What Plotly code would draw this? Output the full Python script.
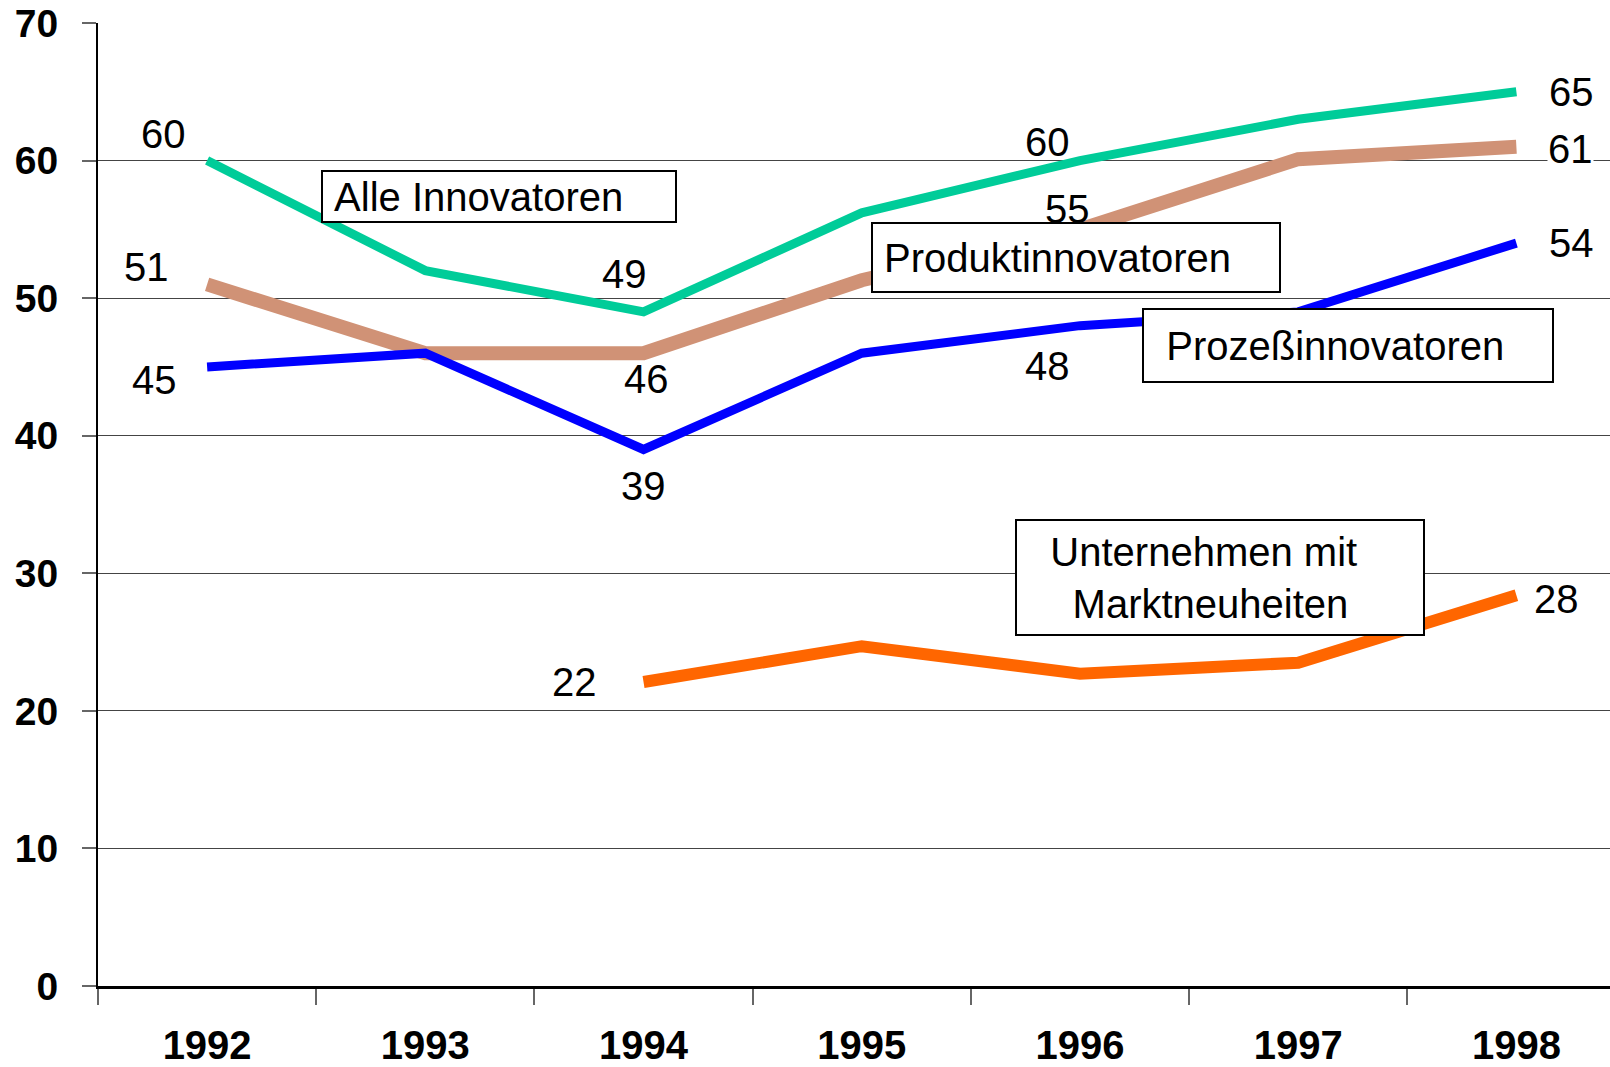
import plotly.graph_objects as go

years = ["1992", "1993", "1994", "1995", "1996", "1997", "1998"]
alle = [60, 52, 49, 56.2, 60, 63, 65]
produkt = [51, 46, 46, 51.3, 55, 60.1, 61]
prozess = [45, 46, 39, 46, 48, 49, 54]
markt = [None, None, 22.1, 24.7, 22.7, 23.5, 28.4]

series_names = ["Alle Innovatoren", "Produktinnovatoren", "Prozeßinnovatoren",
                "Unternehmen mit<br>Marktneuheiten"]

FONT = "Liberation Sans, Arial, sans-serif"

fig = go.Figure()

styles = {
    "markt": dict(color="#FF6600", width=12),
    "produkt": dict(color="rgb(208,146,118)", width=14),
    "prozess": dict(color="#0000FF", width=9),
    "alle": dict(color="#00CC99", width=9),
}
data = {"markt": markt, "produkt": produkt, "prozess": prozess, "alle": alle}
names = {"alle": series_names[0], "produkt": series_names[1],
         "prozess": series_names[2], "markt": series_names[3]}

for key in ["markt", "produkt", "prozess", "alle"]:
    fig.add_trace(go.Scatter(x=years, y=data[key], mode="lines",
                             line=dict(color=styles[key]["color"], width=styles[key]["width"]),
                             name=names[key].replace("<br>", " "), showlegend=False,
                             connectgaps=False))

# label placement (pixel offsets, dx right, dy down)
label_offsets = {
    "alle": {0: (-44, -27), 2: (-19, -38), 4: (-32, -19), 6: (55, 0)},
    "produkt": {0: (-61, -17), 2: (3, 26), 4: (-12, -20), 6: (54, 2)},
    "prozess": {0: (-53, 13), 2: (0, 37), 4: (-32, 40), 6: (55, 0)},
    "markt": {2: (-69, 0), 6: (40, 4)},
}

annotations = []
for key, offs in label_offsets.items():
    for i, (dx, dy) in offs.items():
        v = data[key][i]
        annotations.append(dict(
            x=i, y=v, xref="x", yref="y", text=str(int(round(v))),
            showarrow=False, xshift=dx, yshift=-dy,
            font=dict(family=FONT, size=40, color="black"),
            bgcolor="white" if i == 6 and key != "markt" else "rgba(0,0,0,0)",
            borderpad=0,
        ))

# boxed series labels (center in data coords, size in px, leading spaces per line)
boxes = [
    (series_names[0], 1.339, 57.42, 352, 49, [1]),
    (series_names[1], 3.984, 52.98, 406, 67, [1]),
    (series_names[2], 5.230, 46.58, 408, 71, [2]),
    (series_names[3], 4.643, 29.71, 406, 113, [3, 5]),
]
for txt, bx, by, w, h, lead in boxes:
    lines = txt.split("<br>")
    t = "<br>".join("&nbsp;" * n + ln for n, ln in zip(lead, lines))
    annotations.append(dict(
        x=bx, y=by, xref="x", yref="y", text=t, showarrow=False,
        width=w, height=h, align="left", valign="middle",
        font=dict(family=FONT, size=40, color="black"),
        bgcolor="white", bordercolor="black", borderwidth=2, borderpad=0,
    ))

fig.update_layout(
    width=1610, height=1067,
    margin=dict(l=98, r=0, t=23, b=81),
    paper_bgcolor="white", plot_bgcolor="white",
    annotations=annotations,
    showlegend=False,
)

fig.update_xaxes(
    type="category", range=[-0.5, 6.429], tickson="boundaries",
    showgrid=False, showline=True, linecolor="black", linewidth=3,
    ticks="outside", ticklen=16, tickcolor="#666", tickwidth=1.5,
    tickfont=dict(family=FONT, size=40, color="black", weight="bold"),
    ticklabelstandoff=22, automargin=False,
)
fig.update_yaxes(
    range=[0, 70], dtick=10, tick0=0,
    showgrid=True, gridcolor="#444", gridwidth=1,
    showline=True, linecolor="black", linewidth=2,
    ticks="outside", ticklen=14, tickcolor="#666", tickwidth=1.5,
    tickfont=dict(family=FONT, size=39, color="black", weight="bold"),
    ticklabelstandoff=16, zeroline=False, automargin=False,
)

# remove the browser's default 8px body margin so the figure fills the window exactly
fig.write_html("out.html", config={"displayModeBar": False},
               post_script="document.body.style.margin='0px';")
